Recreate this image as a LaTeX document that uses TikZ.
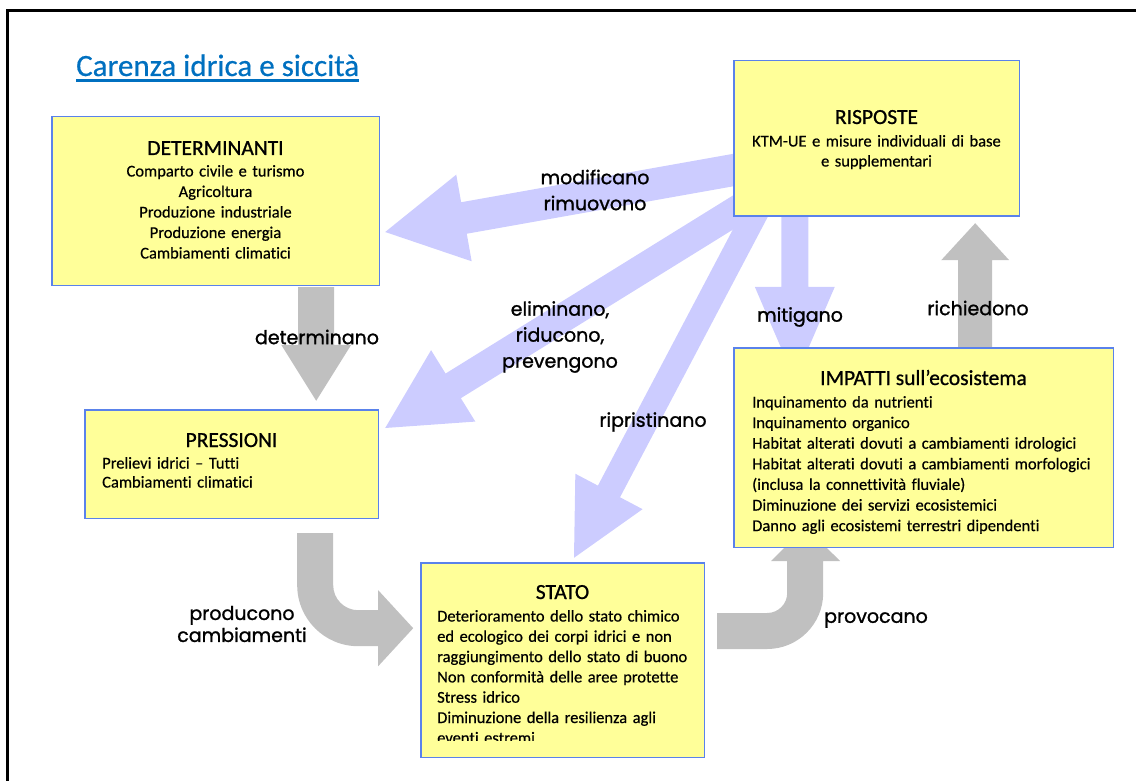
\documentclass[tikz,border=0pt]{standalone}
\usepackage{fontspec}
\setmainfont{Carlito}[FakeBold=0.5, Ligatures=NoCommon]
\newfontfamily\headfont{Carlito}[FakeBold=0.9, Ligatures=NoCommon]
\newfontfamily\labfont{Poppins}[FakeBold=1.2]
\usetikzlibrary{calc}

\definecolor{boxfill}{RGB}{255,255,153}
\definecolor{boxline}{RGB}{90,130,235}
\definecolor{lav}{RGB}{204,204,255}
\definecolor{greyarrow}{RGB}{192,192,192}
\definecolor{titleblue}{RGB}{0,112,192}

% straight block arrow: #1 start, #2 tip, #3 half shaft width,
% #4 half head width, #5 head length, #6 fill colour
\newcommand\blockarrow[6]{%
  \path (#2) coordinate (ba-t) ($(#2)!#5!(#1)$) coordinate (ba-h);
  \fill[#6] ($(#1)!#3!90:(ba-t)$) -- ($(ba-h)!#3!90:(ba-t)$)
    -- ($(ba-h)!#4!90:(ba-t)$) -- (ba-t) -- ($(ba-h)!#4!-90:(ba-t)$)
    -- ($(ba-h)!#3!-90:(ba-t)$) -- ($(#1)!#3!-90:(ba-t)$) -- cycle;}

\begin{document}
\begin{tikzpicture}[x=1pt,y=-1pt,
  box/.style={draw=boxline, fill=boxfill, line width=1.4pt, inner sep=0pt},
  boxtitle/.style={font=\headfont\fontsize{21.5}{26}\selectfont, inner sep=0pt, anchor=base},
  bodyc/.style={font=\fontsize{16.5}{20.5}\selectfont, inner sep=0pt, anchor=base,
    text width=310pt, align=center},
  bodyl/.style={font=\fontsize{16.5}{#1}\selectfont, inner sep=0pt, anchor=base west,
    text width=380pt, align=left},
  lab/.style={font=\labfont\fontsize{19}{#1}\selectfont, inner sep=0pt, align=center},
  lab/.default=26pt]

\useasboundingbox (0,0) rectangle (1136,781);

% page frame
\draw[line width=3pt] (7.5,781) -- (7.5,10.5) -- (1136,10.5);

% heading
\node[anchor=base west, inner sep=0pt, text=titleblue,
  font=\fontsize{31}{36}\selectfont] (title) at (76,76) {Carenza idrica e siccità};
\draw[titleblue, line width=2.2pt] ($(title.base west)+(0,4.5)$) -- ($(title.base east)+(0,4.5)$);

% frames of the five boxes (placed first, drawn after the arrows)
\path
  (215.5,201) node[minimum width=327pt, minimum height=168pt] (det) {}
  (876.5,138.5) node[minimum width=285pt, minimum height=155pt] (ris) {}
  (923.5,447.5) node[minimum width=379pt, minimum height=199pt] (imp) {}
  (562.5,660) node[minimum width=283pt, minimum height=194pt] (sta) {}
  (231.5,464) node[minimum width=293pt, minimum height=108pt] (pre) {};

% arrow end points
\coordinate (d0) at ($(det.south east)+(-63,2)$);
\coordinate (d1) at ($(pre.north east)+(-62,-9)$);
\coordinate (r0) at ($(imp.north east)+(-138,-1)$);
\coordinate (r1) at ($(ris.south east)+(-44,7)$);
\coordinate (g0) at ($(ris.south west)+(61,-6)$);
\coordinate (g1) at ($(imp.north west)+(61,32)$);
\coordinate (m0) at ($(ris.west)+(11,29.5)$);
\coordinate (m1) at ($(det.east)+(6,31)$);
\coordinate (e0) at ($(ris.south west)+(11,-11)$);
\coordinate (e1) at ($(pre.east)+(7,-36)$);
\coordinate (p0) at ($(ris.south west)+(26,-11)$);
\coordinate (p1) at ($(sta.north)+(11.5,-5)$);

% grey arrows
\blockarrow{d0}{d1}{18pt}{35pt}{56pt}{greyarrow}
\blockarrow{r0}{r1}{17pt}{34pt}{37pt}{greyarrow}
\begin{scope}[shift={(pre.south east)}]
  \fill[greyarrow] (-81,15) -- (-81,67) .. controls (-81,100.7) and (-53.7,128) .. (-20,128)
    -- (0,128) -- (0,148) -- (35,110) -- (0,72) -- (0,92) -- (-20,92)
    .. controls (-33.8,92) and (-45,80.8) .. (-45,67) -- (-45,15) -- cycle;
\end{scope}
\begin{scope}[shift={(sta.east)}]
  \fill[greyarrow] (13,-47) -- (63,-47) .. controls (74,-47) and (83,-56) .. (83,-67)
    -- (83,-99) -- (67,-99) -- (101,-133) -- (136,-99) -- (119,-99) -- (119,-67)
    .. controls (119,-36.1) and (93.9,-11) .. (63,-11) -- (13,-11) -- cycle;
\end{scope}

% lavender arrows
\blockarrow{g0}{g1}{13.5pt}{40pt}{93pt}{lav}
\blockarrow{m0}{m1}{16pt}{44pt}{80pt}{lav}
\blockarrow{e0}{e1}{14.5pt}{42pt}{80pt}{lav}
\blockarrow{p0}{p1}{12.5pt}{38pt}{75pt}{lav}

% boxes
\foreach \b in {det,ris,imp,sta,pre}
  \draw[box] (\b.north west) rectangle (\b.south east);

% box texts
\node[boxtitle] (det-t) at (215.5,155) {DETERMINANTI};
\node[bodyc] (det-b) at (215.5,176.5) {Comparto civile e turismo\\Agricoltura\\Produzione industriale\\Produzione energia\\Cambiamenti climatici};

\node[boxtitle] (ris-t) at (876.5,124) {RISPOSTE};
\node[bodyc, font=\fontsize{16.5}{20}\selectfont] (ris-b) at (876.5,146.5) {KTM-UE e misure individuali di base\\e supplementari};

\node[boxtitle] (imp-t) at (923.5,385) {IMPATTI sull’ecosistema};
\node[bodyl=20.6pt] (imp-b) at (752,407.5) {Inquinamento da nutrienti\\Inquinamento organico\\Habitat alterati dovuti a cambiamenti idrologici\\Habitat alterati dovuti a cambiamenti morfologici\\(inclusa la connettività fluviale)\\Diminuzione dei servizi ecosistemici\\Danno agli ecosistemi terrestri dipendenti};

\node[boxtitle] (sta-t) at (562.5,599) {STATO};
\begin{scope}
  \clip (sta.north west) rectangle ($(sta.south east)+(0,-17)$);
  \node[bodyl=20.3pt] (sta-b) at (437,621.5) {Deterioramento dello stato chimico\\ed ecologico dei corpi idrici e non\\raggiungimento dello stato di buono\\Non conformità delle aree protette\\Stress idrico\\Diminuzione della resilienza agli\\eventi estremi};
\end{scope}

\node[boxtitle] (pre-t) at (231.5,447) {PRESSIONI};
\node[bodyl=19pt] (pre-b) at (102,468.5) {Prelievi idrici -- Tutti\\Cambiamenti climatici};

% arrow labels
\node[lab] (l-mod) at (595,190) {modificano\\rimuovono};
\node[lab] (l-eli) at (560,337) {eliminano,\\riducono,\\prevengono};
\node[lab] (l-rip) at (653,422) {ripristinano};
\node[lab] (l-det) at (317,337) {determinano};
\node[lab] (l-mit) at (800,317) {mitigano};
\node[lab] (l-ric) at (978,308) {richiedono};
\node[lab=22pt] (l-pro) at (242,624) {producono\\cambiamenti};
\node[lab] (l-prv) at (876,620) {provocano};
\end{tikzpicture}
\end{document}
